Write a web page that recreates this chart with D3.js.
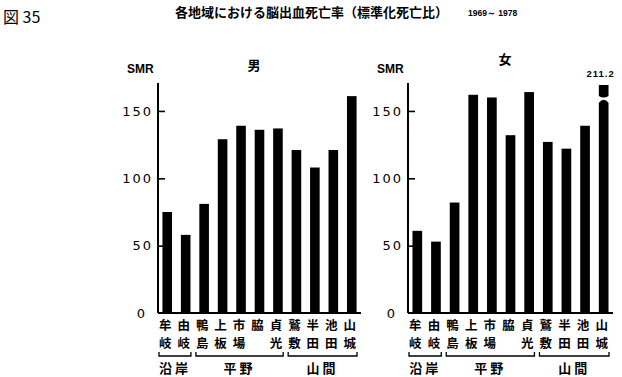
<!DOCTYPE html>
<html>
<head>
<meta charset="utf-8">
<script src="https://cdn.jsdelivr.net/npm/d3@7"></script>
<style>
  body { margin: 0; background: #fff; }
  svg { display: block; }
  text { fill: #000; }
</style>
</head>
<body>
<div id="chart"></div>
<script>
// données
const areas = [
  ["牟", "岐"], ["由", "岐"], ["鴨", "島"], ["上", "板"], ["市", "場"], ["脇", ""],
  ["貞", "光"], ["鷲", "敷"], ["半", "田"], ["池", "田"], ["山", "城"]
];
const groups = [
  { name: "沿岸", from: 0, to: 1 },
  { name: "平野", from: 2, to: 6 },
  { name: "山間", from: 7, to: 10 }
];
const smrMale = [75, 58, 81, 129, 139, 136, 137, 121, 108, 121, 161];
const smrFemale = [61, 53, 82, 162, 160, 132, 164, 127, 122, 139, 211.2];
const yTicks = [0, 50, 100, 150];

const width = 622, height = 377;
const jp = "'Noto Sans CJK JP', sans-serif";

const svg = d3.select("#chart")
  .append("svg")
  .attr("width", width)
  .attr("height", height);

// titraille
svg.append("text")
  .attr("x", 3).attr("y", 23)
  .attr("font-family", jp)
  .attr("font-size", 16)
  .text("図 35");

svg.append("text")
  .attr("x", 175).attr("y", 17)
  .attr("font-family", jp)
  .attr("font-size", 13)
  .attr("font-weight", "bold")
  .text("各地域における脳出血死亡率（標準化死亡比）");

svg.append("text")
  .attr("x", 468).attr("y", 16)
  .attr("font-family", "'Liberation Sans', Arial, sans-serif")
  .attr("font-size", 8.5)
  .attr("font-weight", "bold")
  .text("1969～ 1978");

// un panneau par sexe
function drawPanel(cfg) {
  const y = d3.scaleLinear().domain([0, 170]).range([313, 84]);
  const x = d3.scaleBand()
    .domain(d3.range(areas.length))
    .range([cfg.x0, cfg.x1])
    .paddingInner(0.48)
    .paddingOuter(0.24);

  const g = svg.append("g");

  // axe Y
  const axis = g.append("g")
    .attr("transform", `translate(${cfg.axisX},0)`)
    .call(d3.axisLeft(y).tickValues(yTicks).tickSize(-7).tickPadding(5));
  axis.select(".domain").remove();
  axis.selectAll(".tick line").attr("stroke", "#000").attr("stroke-width", 1.6);
  axis.selectAll(".tick text")
    .attr("font-family", "'DejaVu Sans', sans-serif")
    .attr("font-size", 13)
    .attr("letter-spacing", 2)
    .attr("fill", "#000");
  const zero = axis.selectAll(".tick").filter(d => d === 0);
  zero.select("line").remove();
  zero.select("text").attr("dx", -6);

  g.append("line")
    .attr("x1", cfg.axisX).attr("x2", cfg.axisX)
    .attr("y1", y(170) - 1).attr("y2", y(0))
    .attr("stroke", "#000").attr("stroke-width", 2);
  g.append("line")
    .attr("x1", cfg.axisX).attr("x2", cfg.x1)
    .attr("y1", y(0)).attr("y2", y(0))
    .attr("stroke", "#000").attr("stroke-width", 2);

  // barres
  const maxShown = 156;
  g.selectAll("rect.bar")
    .data(cfg.values)
    .join("rect")
    .attr("class", "bar")
    .attr("x", (d, i) => x(i))
    .attr("width", x.bandwidth())
    .attr("y", d => y(Math.min(d, 170)))
    .attr("height", d => y(0) - y(Math.min(d, 170)))
    .attr("fill", "#000")
    .filter(d => d > 170).remove();

  // barre coupée (valeur hors échelle)
  cfg.values.forEach((d, i) => {
    if (d <= 170) return;
    const bx = x(i), bw = x.bandwidth();
    const top = y(maxShown);
    g.append("path")
      .attr("d", `M${bx},${y(0)}V${top}Q${bx + bw / 2},${top - 6} ${bx + bw},${top}V${y(0)}Z`)
      .attr("fill", "#000");
    const t2 = y(170) + 1, b2 = y(161);
    g.append("path")
      .attr("d", `M${bx},${t2}H${bx + bw}V${b2}Q${bx + bw / 2},${b2 + 3} ${bx},${b2}Z`)
      .attr("fill", "#000");
    g.append("text")
      .attr("x", bx + bw / 2 - 3).attr("y", y(170) - 7)
      .attr("text-anchor", "middle")
      .attr("font-family", "'Liberation Sans', Arial, sans-serif")
      .attr("font-size", 9.5)
      .attr("font-weight", "bold")
      .attr("letter-spacing", 1)
      .text(d3.format(".1f")(d));
  });

  // étiquettes des lieux
  const lab = g.selectAll("g.lab")
    .data(areas)
    .join("g")
    .attr("class", "lab")
    .attr("transform", (d, i) => `translate(${x(i) + x.bandwidth() / 2 - 2},0)`);
  lab.append("text").attr("y", 330).text(d => d[0]);
  lab.append("text").attr("y", 348).text(d => d[1]);
  lab.selectAll("text")
    .attr("text-anchor", "middle")
    .attr("font-family", jp)
    .attr("font-size", 12.5)
    .attr("font-weight", "bold");

  // accolades des groupes
  groups.forEach(gr => {
    const a = x(gr.from) - x.step() * x.paddingOuter() + 1;
    const b = x(gr.to) + x.bandwidth() + x.step() * x.paddingInner() / 2 - 4;
    g.append("path")
      .attr("d", `M${a},352V356H${b}V352`)
      .attr("fill", "none")
      .attr("stroke", "#000")
      .attr("stroke-width", 1.3);
    g.append("text")
      .attr("x", (a + b) / 2).attr("y", 373)
      .attr("text-anchor", "middle")
      .attr("font-family", jp)
      .attr("font-size", 13)
      .attr("font-weight", "bold")
      .attr("letter-spacing", 3)
      .text(gr.name);
  });

  // SMR + sexe
  g.append("text")
    .attr("x", cfg.axisX - 31).attr("y", 73)
    .attr("font-family", "'Liberation Sans', Arial, sans-serif")
    .attr("font-size", 12)
    .attr("font-weight", "bold")
    .text("SMR");
  g.append("text")
    .attr("x", cfg.sexX).attr("y", cfg.sexY)
    .attr("text-anchor", "middle")
    .attr("font-family", jp)
    .attr("font-size", 13)
    .attr("font-weight", "bold")
    .text(cfg.sex);
}

drawPanel({ values: smrMale, axisX: 158, x0: 158, x1: 361, sex: "男", sexX: 254, sexY: 70 });
drawPanel({ values: smrFemale, axisX: 408, x0: 408, x1: 613, sex: "女", sexX: 505, sexY: 64 });
</script>
</body>
</html>
